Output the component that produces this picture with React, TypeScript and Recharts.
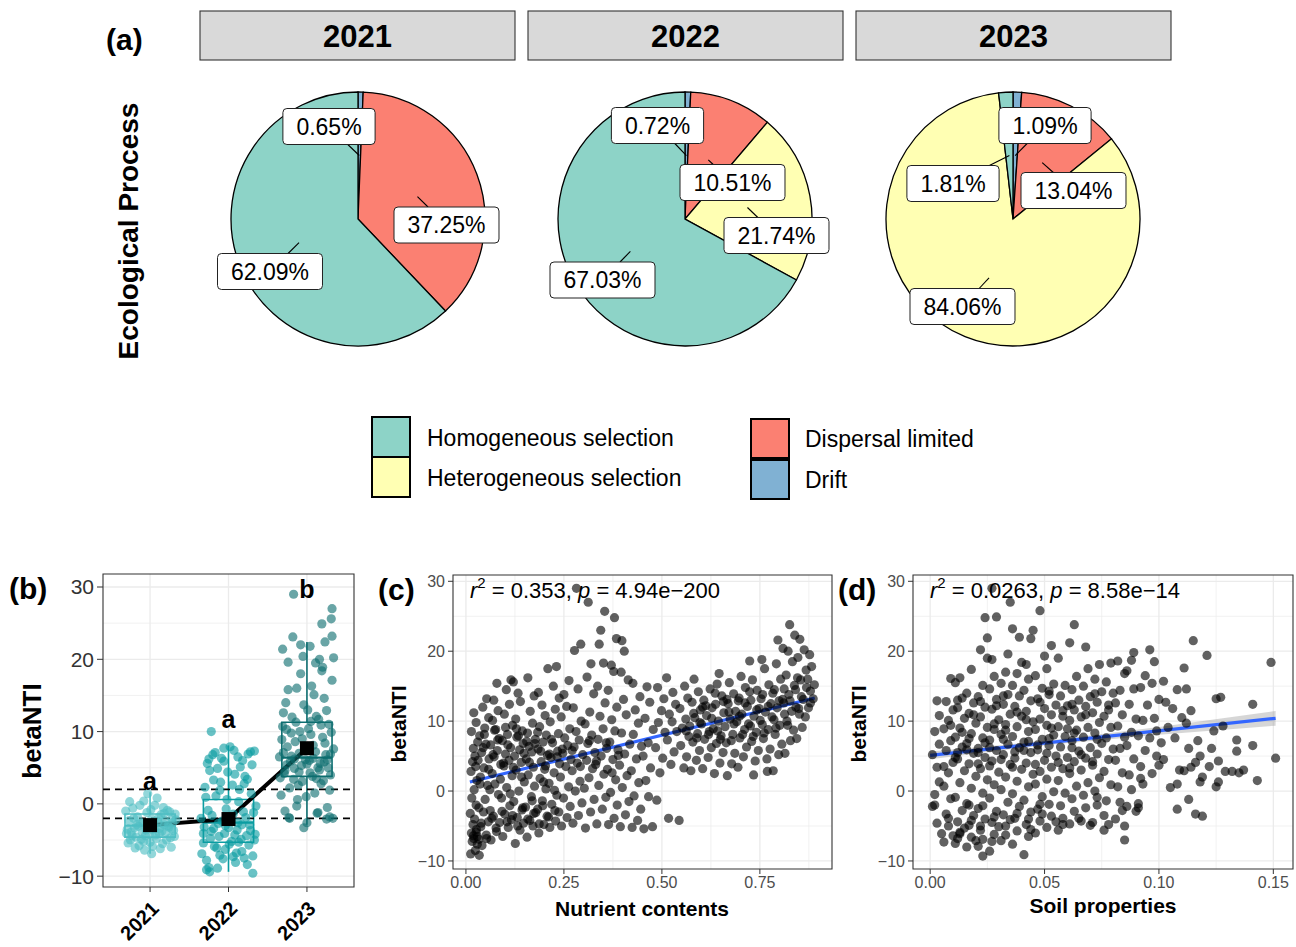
import React from "react";
import {
  PieChart,
  Pie,
  Cell,
  ComposedChart,
  Scatter,
  Line,
  Area,
  XAxis,
  YAxis,
  CartesianGrid,
  ReferenceLine,
  ReferenceArea,
} from "recharts";

const FONT = '"Liberation Sans", Arial, Helvetica, sans-serif';

// ---------- (a) share of each assembly process per year, in % ----------
const YEARS = ["2021", "2022", "2023"];
const PROCESSES = ["Drift", "Dispersal limited", "Heterogeneous selection", "Homogeneous selection"];
const SHARE_2021 = [0.65, 37.25, 0, 62.09];
const SHARE_2022 = [0.72, 10.51, 21.74, 67.03];
const SHARE_2023 = [1.09, 13.04, 84.06, 1.81];
const PROCESS_FILL = ["#80B1D3", "#FB8072", "#FFFFB3", "#8DD3C7"];
const LEGEND_LEFT = ["Homogeneous selection", "Heterogeneous selection"];
const LEGEND_RIGHT = ["Dispersal limited", "Drift"];

// label box offsets from the pie centre (repelled labels), per process
const LABEL_SPOTS_2021 = [[-29, -92.5], [88.5, 6], [0, 0], [-88, 52.5]];
const LABEL_SPOTS_2022 = [[-27.5, -93.5], [47.5, -36.5], [91.5, 16.5], [-82.5, 61]];
const LABEL_SPOTS_2023 = [[32, -93.5], [60.5, -28.5], [-50.5, 87.5], [-60, -35.5]];

// ---------- (b) betaNTI by year ----------
const YEAR_FILL = ["#4fbfc4", "#0c9da2", "#0d6e70"];
const BOX_Q1 = [-4.6, -5.3, 3.8];
const BOX_MED = [-3.0, -2.6, 6.4];
const BOX_Q3 = [-1.4, 0.6, 11.3];
const WHISKER_LO = [-6.9, -9.4, -2.9];
const WHISKER_HI = [1.6, 8.1, 22.4];
const MEAN_BETA = [-2.94, -2.1, 7.7];
const GROUP_LETTER = ["a", "a", "b"];
const LETTER_Y = [3.0, 11.6, 29.6];

// [jitter offset, betaNTI]
const JITTER_2021 = [
  [-0.30, -4.1], [-0.27, -2.3], [-0.25, -5.0], [-0.22, -0.6], [-0.20, -3.3], [-0.18, -4.6], [-0.16, -1.8], [-0.14, -5.8],
  [-0.12, -2.7], [-0.10, -3.9], [-0.08, 0.4], [-0.06, -4.4], [-0.04, -1.2], [-0.02, -3.0], [0.00, -5.3], [0.02, -2.1],
  [0.04, -3.6], [0.06, -0.2], [0.08, -4.8], [0.10, -2.5], [0.12, -3.4], [0.14, -1.5], [0.16, -5.5], [0.18, -2.9],
  [0.20, -4.0], [0.22, -0.9], [0.24, -3.2], [0.26, -4.7], [0.28, -2.0], [0.30, -3.7], [0.32, -1.4], [-0.31, -1.0],
  [-0.29, -3.5], [-0.26, 0.3], [-0.23, -4.4], [-0.21, -2.0], [-0.19, -6.1], [-0.15, -3.1], [-0.13, -0.2], [-0.11, -4.9],
  [-0.09, -2.6], [-0.07, -6.4], [-0.05, -3.6], [-0.03, 1.4], [-0.01, -4.2], [0.01, -0.8], [0.03, -5.9], [0.05, -2.8],
  [0.07, -4.3], [0.09, 0.8], [0.11, -1.9], [0.13, -6.2], [0.15, -3.8], [0.17, -0.5], [0.19, -2.4], [0.21, -5.0],
  [0.23, -3.0], [0.25, -1.1], [0.27, -6.0], [0.29, -2.6], [0.31, -4.5], [-0.24, -3.9], [-0.17, -2.9], [-0.08, -5.2],
  [0.02, -6.9], [0.06, -3.4], [0.12, -4.1], [0.18, -1.3], [0.27, -3.4], [-0.28, -5.4], [0.33, -2.2],
];
const JITTER_2022 = [
  [-0.34, -6.9], [-0.31, -3.2], [-0.29, 0.9], [-0.27, 5.6], [-0.25, -8.8], [-0.23, -4.8], [-0.21, -1.6], [-0.19, 3.3],
  [-0.17, 7.1], [-0.15, -6.1], [-0.13, -2.7], [-0.11, 1.9], [-0.09, 6.3], [-0.07, -7.6], [-0.05, -4.1], [-0.03, -0.7],
  [-0.01, 4.4], [0.01, -5.6], [0.03, -2.2], [0.05, 2.6], [0.07, 7.4], [0.09, -8.1], [0.11, -3.6], [0.13, 0.3],
  [0.15, 5.1], [0.17, -6.6], [0.19, -1.1], [0.21, 3.8], [0.23, -4.4], [0.25, 6.9], [0.27, -2.9], [0.29, 1.4],
  [0.31, -7.2], [0.33, -5.0], [0.35, -0.3], [-0.35, -2.0], [-0.32, -5.4], [-0.30, 2.3], [-0.28, -7.8], [-0.26, -0.9],
  [-0.24, 4.6], [-0.22, -3.8], [-0.20, 6.8], [-0.18, -5.9], [-0.16, 1.1], [-0.14, -8.9], [-0.12, -4.5], [-0.10, 3.0],
  [-0.08, -2.4], [-0.06, 5.9], [-0.04, -6.3], [-0.02, 0.6], [0.00, -3.3], [0.02, 7.9], [0.04, -5.2], [0.06, -1.4],
  [0.08, 4.1], [0.10, -6.8], [0.12, -2.6], [0.14, 2.0], [0.16, -4.9], [0.18, 6.0], [0.20, -7.5], [0.22, -1.9],
  [0.24, 3.4], [0.26, -5.7], [0.28, -3.7], [0.30, 5.4], [0.32, -1.2], [0.34, -4.2], [-0.22, 10.0], [-0.28, -9.1],
  [-0.24, -9.4], [0.31, -9.6], [0.24, -8.4], [-0.11, -7.1], [0.06, -7.3], [0.13, -5.3], [-0.04, -3.0], [0.17, -2.9],
  [-0.19, -3.4], [0.08, -4.3], [-0.32, -4.1], [0.28, 7.2], [0.33, 7.3], [-0.06, 7.7], [0.12, 6.5], [-0.25, 6.2],
  [0.20, 2.8], [-0.14, 4.9],
];
const JITTER_2023 = [
  [-0.34, 3.6], [-0.32, 8.9], [-0.30, 12.6], [-0.28, -1.0], [-0.26, 5.4], [-0.24, 15.8], [-0.22, 2.2], [-0.20, 9.8],
  [-0.18, 23.1], [-0.16, 4.9], [-0.14, 11.3], [-0.12, 0.6], [-0.10, 7.0], [-0.08, 18.0], [-0.06, 3.1], [-0.04, 13.7],
  [-0.02, 6.1], [0.00, -2.6], [0.02, 10.4], [0.04, 4.3], [0.06, 16.3], [0.08, 8.1], [0.10, 1.5], [0.12, 12.1],
  [0.14, 5.0], [0.16, 20.0], [0.18, 2.8], [0.20, 9.2], [0.22, 14.6], [0.24, 6.8], [0.26, -0.5], [0.28, 11.0],
  [0.30, 4.0], [0.32, 17.1], [0.34, 7.6], [-0.35, 6.5], [-0.33, 1.2], [-0.31, 10.7], [-0.29, 4.2], [-0.27, 14.0],
  [-0.25, 7.9], [-0.23, -1.9], [-0.21, 5.9], [-0.19, 12.0], [-0.17, 3.4], [-0.15, 8.6], [-0.13, 16.0], [-0.11, 2.6],
  [-0.09, 10.0], [-0.07, 5.3], [-0.05, 20.4], [-0.03, 7.4], [-0.01, 1.0], [0.01, 13.0], [0.03, 6.0], [0.05, 9.6],
  [0.07, 3.8], [0.09, 15.1], [0.11, 7.2], [0.13, -1.3], [0.15, 11.7], [0.17, 5.6], [0.19, 18.4], [0.21, 3.2],
  [0.23, 8.4], [0.25, 12.9], [0.27, 5.0], [0.29, 1.9], [0.31, 9.9], [0.33, -2.0], [-0.17, 29.0], [0.32, 27.0],
  [0.31, 25.6], [0.19, 24.9], [0.32, 23.2], [-0.08, 22.0], [0.04, 21.8], [0.23, 22.4], [-0.31, 21.4], [0.11, 19.5],
  [0.20, 18.9], [-0.24, 19.6], [0.34, 20.2], [-0.04, -3.3], [-0.22, -2.0], [0.25, -2.1], [0.29, -1.8], [0.14, -1.2],
  [-0.13, -0.3], [-0.28, 4.6], [-0.20, 6.6], [-0.10, 4.4], [0.00, 5.5], [0.08, 6.3], [0.16, 4.7], [0.26, 6.1],
  [-0.30, 7.1], [0.12, 3.5], [-0.06, 9.0], [0.22, 5.8], [0.30, 6.9], [-0.16, 6.2], [0.05, 11.4], [-0.26, 10.3],
  [0.18, 10.9],
];

// ---------- (c) betaNTI vs nutrient contents ----------
const NUTRIENT_POINTS = [
  [0.012, -9.0], [0.024, -8.5], [0.016, -7.2], [0.029, -6.5], [0.020, -6.8], [0.014, -6.0], [0.027, -5.5], [0.018, -4.8],
  [0.022, -4.0], [0.011, -3.2], [0.026, -2.0], [0.015, -1.0], [0.021, 0.2], [0.028, 1.5], [0.013, 2.8], [0.025, 3.5],
  [0.017, 4.2], [0.023, 5.0], [0.019, 6.1], [0.030, 7.0], [0.014, 8.5], [0.026, 9.8], [0.020, 11.2],
  [0.034, -9.2], [0.041, -7.8], [0.052, -6.3], [0.038, -5.1], [0.057, -4.4], [0.045, -3.0], [0.033, -2.4], [0.049, -1.2],
  [0.055, 0.8], [0.037, 2.0], [0.046, 3.3], [0.059, 4.6], [0.040, 5.5], [0.051, 6.7], [0.035, 7.9], [0.048, 9.0],
  [0.058, 10.5], [0.043, 12.0], [0.053, 13.2],
  [0.064, -7.0], [0.078, -5.8], [0.086, -4.5], [0.070, -3.6], [0.062, -2.8], [0.083, -0.5], [0.074, 1.0], [0.067, 2.5],
  [0.089, 3.8], [0.072, 4.9], [0.080, 5.8], [0.063, 6.6], [0.085, 7.5], [0.076, 8.8], [0.068, 10.1], [0.082, 11.5],
  [0.071, 13.0], [0.079, 15.4],
  [0.094, -6.5], [0.108, -5.2], [0.116, -4.1], [0.099, -3.3], [0.112, -2.1], [0.091, -1.0], [0.104, 0.5], [0.118, 2.2],
  [0.097, 3.6], [0.110, 4.4], [0.101, 5.3], [0.114, 6.2], [0.093, 7.2], [0.106, 8.1], [0.119, 9.4], [0.098, 11.0],
  [0.111, 12.4], [0.103, 14.5], [0.115, 15.9],
  [0.126, -7.5], [0.138, -5.6], [0.147, -4.6], [0.131, -3.8], [0.143, -2.7], [0.122, -1.5], [0.135, 0.0], [0.149, 1.3],
  [0.128, 3.0], [0.141, 4.1], [0.124, 5.0], [0.137, 5.9], [0.146, 6.8], [0.130, 7.7], [0.144, 8.6], [0.127, 10.3],
  [0.139, 12.8], [0.133, 14.0], [0.121, 15.6],
  [0.156, -6.6], [0.171, -5.0], [0.163, -4.2], [0.178, -3.1], [0.152, -2.3], [0.167, -0.8], [0.175, 0.7], [0.159, 2.3],
  [0.172, 3.4], [0.154, 4.6], [0.168, 5.6], [0.161, 6.4], [0.177, 7.4], [0.157, 8.3], [0.170, 9.7], [0.164, 11.4],
  [0.174, 13.6], [0.158, 16.2],
  [0.186, -6.0], [0.199, -4.8], [0.207, -3.6], [0.183, -2.6], [0.195, -1.4], [0.204, 0.3], [0.189, 1.8], [0.201, 3.1],
  [0.192, 4.2], [0.208, 5.1], [0.184, 6.0], [0.197, 7.0], [0.205, 8.0], [0.188, 9.2], [0.202, 10.8], [0.194, 12.3],
  [0.185, 14.1], [0.209, 17.5],
  [0.214, -5.2], [0.229, -4.3], [0.237, -3.0], [0.219, -1.9], [0.232, -0.6], [0.212, 1.1], [0.225, 2.6], [0.239, 3.9],
  [0.217, 4.8], [0.234, 5.7], [0.221, 6.9], [0.236, 8.2], [0.215, 9.9], [0.228, 11.7], [0.238, 13.3], [0.223, 15.0],
  [0.231, 17.8],
  [0.244, -5.0], [0.258, -3.8], [0.266, -2.2], [0.249, -1.0], [0.262, 0.6], [0.241, 2.0], [0.255, 3.5], [0.268, 4.5],
  [0.247, 5.4], [0.260, 6.5], [0.252, 7.6], [0.265, 8.9], [0.243, 10.6], [0.257, 12.1], [0.250, 13.8], [0.263, 15.8],
  [0.273, -4.6], [0.287, -3.5], [0.296, -1.7], [0.279, 0.0], [0.291, 1.4], [0.271, 2.9], [0.284, 4.0], [0.298, 5.2],
  [0.276, 6.3], [0.289, 7.3], [0.281, 8.5], [0.294, 10.0], [0.274, 11.9], [0.286, 14.6], [0.277, 20.1], [0.293, 21.0],
  [0.282, 29.0],
  [0.305, -5.3], [0.318, -3.0], [0.327, -1.2], [0.302, 0.4], [0.314, 1.9], [0.323, 3.2], [0.308, 4.4], [0.329, 5.5],
  [0.311, 6.8], [0.321, 8.0], [0.304, 9.6], [0.316, 11.3], [0.326, 13.9], [0.309, 16.3], [0.319, 18.2], [0.312, 27.0],
  [0.334, -4.7], [0.348, -2.6], [0.357, -0.9], [0.339, 0.8], [0.352, 2.4], [0.331, 3.8], [0.345, 5.0], [0.359, 6.1],
  [0.337, 7.4], [0.350, 8.9], [0.342, 10.7], [0.355, 12.6], [0.336, 15.0], [0.351, 18.3], [0.340, 21.0], [0.344, 23.0],
  [0.354, 25.7],
  [0.364, -4.8], [0.378, -3.9], [0.386, -2.0], [0.369, -0.2], [0.382, 1.6], [0.361, 3.1], [0.375, 4.5], [0.388, 5.9],
  [0.367, 7.0], [0.380, 8.6], [0.372, 10.2], [0.385, 12.0], [0.363, 14.4], [0.377, 17.1], [0.371, 18.0], [0.384, 21.8],
  [0.379, 24.8],
  [0.394, -5.1], [0.407, -3.4], [0.416, -1.5], [0.399, 0.5], [0.411, 2.2], [0.392, 3.7], [0.405, 5.3], [0.418, 6.7],
  [0.397, 8.3], [0.409, 10.9], [0.402, 13.1], [0.414, 15.9], [0.396, 17.0], [0.404, 20.0], [0.398, 21.5],
  [0.424, -5.2], [0.438, -4.2], [0.446, -2.6], [0.429, -0.7], [0.441, 1.2], [0.422, 2.9], [0.435, 4.6], [0.448, 6.4],
  [0.427, 8.1], [0.440, 9.7], [0.432, 11.6], [0.444, 13.5], [0.426, 15.4],
  [0.454, -5.4], [0.476, -5.1], [0.466, -0.8], [0.459, 1.5], [0.471, 3.3], [0.452, 5.0], [0.465, 6.9], [0.478, 8.8],
  [0.457, 10.4], [0.469, 12.7], [0.462, 14.9],
  [0.487, -1.3], [0.495, 2.6], [0.502, 4.7], [0.484, 6.2], [0.508, 8.4], [0.491, 9.8], [0.499, 11.5], [0.505, 13.2],
  [0.489, 14.8],
  [0.517, -3.9], [0.523, 3.8], [0.531, 5.6], [0.514, 7.3], [0.538, 8.5], [0.526, 9.9], [0.519, 11.0], [0.535, 12.4],
  [0.528, 14.1], [0.512, 16.2],
  [0.544, -4.2], [0.556, 3.3], [0.563, 4.9], [0.548, 6.5], [0.569, 7.8], [0.552, 9.0], [0.561, 10.3], [0.546, 11.8],
  [0.566, 13.3], [0.558, 15.0],
  [0.574, 2.9], [0.588, 4.4], [0.596, 5.8], [0.579, 7.0], [0.591, 8.2], [0.571, 9.3], [0.584, 10.5], [0.598, 11.6],
  [0.577, 12.7], [0.593, 14.2], [0.582, 16.0],
  [0.604, 3.2], [0.618, 4.8], [0.626, 6.2], [0.609, 7.4], [0.621, 8.5], [0.601, 9.6], [0.614, 10.8], [0.628, 11.9],
  [0.607, 13.0], [0.623, 14.6],
  [0.634, 2.5], [0.648, 4.0], [0.656, 5.5], [0.639, 6.8], [0.651, 7.9], [0.631, 8.9], [0.644, 10.0], [0.658, 11.2],
  [0.637, 12.4], [0.653, 13.6], [0.641, 15.3], [0.646, 16.8],
  [0.667, 2.2], [0.678, 3.9], [0.686, 5.4], [0.664, 6.9], [0.681, 8.1], [0.661, 9.2], [0.674, 10.3], [0.688, 11.4],
  [0.669, 12.5], [0.683, 13.9], [0.672, 15.5],
  [0.694, 3.4], [0.708, 4.9], [0.716, 6.3], [0.699, 7.6], [0.711, 8.8], [0.691, 9.9], [0.704, 11.0], [0.718, 12.1],
  [0.697, 13.3], [0.713, 14.8], [0.702, 16.4],
  [0.734, 2.3], [0.738, 4.3], [0.746, 5.8], [0.729, 7.1], [0.741, 8.4], [0.721, 9.6], [0.735, 10.7], [0.748, 11.8],
  [0.727, 13.0], [0.743, 14.4], [0.731, 15.9], [0.724, 18.6],
  [0.769, 2.8], [0.768, 4.6], [0.776, 6.0], [0.759, 7.5], [0.771, 8.8], [0.751, 10.1], [0.764, 11.3], [0.778, 12.5],
  [0.757, 13.8], [0.773, 15.2], [0.762, 17.5], [0.755, 18.8],
  [0.784, 2.9], [0.798, 5.2], [0.806, 6.7], [0.789, 8.1], [0.801, 9.4], [0.781, 10.6], [0.794, 11.9], [0.808, 13.1],
  [0.787, 14.5], [0.803, 16.0], [0.792, 18.2], [0.809, 20.4], [0.796, 21.6],
  [0.814, 5.4], [0.828, 7.2], [0.836, 8.7], [0.819, 10.0], [0.831, 11.4], [0.811, 12.6], [0.824, 13.8], [0.838, 15.1],
  [0.817, 16.6], [0.833, 18.5], [0.822, 20.0], [0.839, 22.3], [0.826, 23.8],
  [0.844, 7.5], [0.858, 9.1], [0.866, 10.6], [0.849, 11.8], [0.861, 13.1], [0.841, 14.5], [0.854, 15.9], [0.868, 17.3],
  [0.847, 19.1], [0.863, 20.2], [0.852, 21.7],
  [0.874, 11.9], [0.886, 13.2], [0.879, 14.3], [0.889, 15.2], [0.872, 16.0], [0.882, 17.8], [0.877, 19.5],
  [0.031, 4.4], [0.044, 6.2], [0.058, 3.1], [0.069, 5.2], [0.081, 7.3], [0.096, 4.0], [0.107, 6.6], [0.121, 3.4],
  [0.134, 7.9], [0.148, 5.4], [0.162, 4.1], [0.176, 6.8], [0.191, 5.7], [0.203, 3.6], [0.218, 7.4], [0.233, 4.9],
  [0.246, 6.0], [0.026, -5.9], [0.039, -4.6], [0.053, -6.8], [0.066, -3.9], [0.077, -5.3], [0.092, -2.9], [0.105, -4.4],
  [0.119, -3.5], [0.132, -5.0], [0.145, -2.4], [0.158, -4.0], [0.173, -3.2], [0.187, -4.7], [0.196, -2.1], [0.211, -3.7],
  [0.227, -2.8], [0.036, 1.0], [0.061, 0.2], [0.088, 1.7], [0.113, -0.4], [0.142, 2.0], [0.169, -1.4], [0.198, 1.3],
  [0.226, 0.1], [0.029, -7.6], [0.019, -6.4], [0.033, -6.9], [0.047, 8.1], [0.073, 8.7], [0.101, 9.1], [0.129, 8.9],
  [0.155, 7.1], [0.183, 8.4], [0.213, 5.3], [0.271, 5.8], [0.292, 3.5], [0.315, 7.2], [0.333, 4.3], [0.358, 6.9],
  [0.373, 2.6], [0.389, 5.1],
  [0.562, 8.6], [0.581, 11.1], [0.597, 9.8], [0.612, 12.2], [0.627, 10.4], [0.642, 8.6], [0.657, 12.8], [0.671, 11.3],
  [0.684, 9.6], [0.698, 10.7], [0.712, 12.6], [0.726, 9.3], [0.742, 11.6], [0.756, 9.5], [0.771, 12.1], [0.786, 10.2],
  [0.799, 12.9], [0.813, 11.0], [0.827, 12.9], [0.842, 12.0], [0.856, 13.5], [0.869, 14.8], [0.589, 7.6], [0.619, 8.1],
  [0.649, 7.4], [0.677, 7.2], [0.706, 8.1], [0.733, 7.8], [0.761, 8.3], [0.791, 9.0], [0.821, 9.4], [0.851, 11.0],
  [0.604, 12.0], [0.636, 14.0], [0.666, 13.1], [0.695, 12.9], [0.724, 14.2], [0.753, 13.2], [0.783, 14.0], [0.812, 14.6],
  [0.846, 16.2], [0.879, 12.6],
];
const NUTRIENT_FIT_X = [0.01, 0.89];
const NUTRIENT_FIT_Y = [1.3, 13.3];

// ---------- (d) betaNTI vs soil properties ----------
const SOIL_POINTS = [
  [0.001, -2.2], [0.002, -2.0], [0.003, 3.4], [0.004, 6.7], [0.002, 8.5], [0.004, 10.8], [0.001, 5.2], [0.003, -4.6],
  [0.005, -6.1], [0.003, 12.9], [0.004, 1.3], [0.002, -0.5],
  [0.006, -7.3], [0.008, -5.0], [0.007, -3.3], [0.009, -1.1], [0.006, 0.7], [0.008, 2.6], [0.010, 4.1], [0.007, 5.8],
  [0.009, 7.2], [0.006, 8.9], [0.008, 10.1], [0.010, 11.6], [0.007, 12.8], [0.009, 16.1], [0.010, -6.4], [0.006, 3.5],
  [0.011, -7.5], [0.013, -6.1], [0.012, -4.4], [0.014, -2.8], [0.011, -0.9], [0.013, 1.2], [0.015, 2.9], [0.012, 4.6],
  [0.014, 6.3], [0.011, 7.7], [0.013, 9.0], [0.015, 10.4], [0.012, 11.9], [0.014, 13.3], [0.011, 15.5], [0.013, 16.2],
  [0.015, -5.3], [0.012, 5.5],
  [0.016, -8.0], [0.018, -6.6], [0.017, -4.9], [0.019, -3.5], [0.016, -1.8], [0.018, 0.4], [0.020, 2.1], [0.017, 3.9],
  [0.019, 5.4], [0.016, 6.8], [0.018, 8.2], [0.020, 9.7], [0.017, 11.1], [0.019, 12.6], [0.016, 14.0], [0.018, 17.4],
  [0.020, -7.1], [0.017, 7.5],
  [0.021, -7.9], [0.023, -9.3], [0.022, -5.6], [0.024, -4.0], [0.021, -2.5], [0.023, -0.3], [0.025, 1.6], [0.022, 3.2],
  [0.024, 4.8], [0.021, 6.1], [0.023, 7.6], [0.025, 9.1], [0.022, 10.6], [0.024, 12.0], [0.021, 13.5], [0.023, 15.1],
  [0.025, 19.0], [0.022, 20.2], [0.024, 24.8], [0.025, 21.9], [0.021, 5.5], [0.023, -6.9],
  [0.026, -8.6], [0.028, -6.2], [0.027, -4.5], [0.029, -2.9], [0.026, -1.0], [0.028, 0.9], [0.030, 2.7], [0.027, 4.3],
  [0.029, 5.8], [0.026, 7.3], [0.028, 8.8], [0.030, 10.2], [0.027, 11.7], [0.029, 13.1], [0.026, 14.6], [0.028, 16.4],
  [0.027, 18.8], [0.029, 24.9], [0.027, 29.0], [0.030, -5.1], [0.026, 3.6], [0.028, 9.6],
  [0.031, -7.1], [0.033, -5.0], [0.032, -3.4], [0.034, -1.6], [0.031, 0.2], [0.033, 2.0], [0.035, 3.8], [0.032, 5.2],
  [0.034, 6.7], [0.031, 8.1], [0.033, 9.5], [0.035, 11.0], [0.032, 12.4], [0.034, 13.8], [0.031, 15.4], [0.033, 17.0],
  [0.035, 27.0], [0.034, 19.6], [0.032, 7.4], [0.035, -4.1],
  [0.036, -7.6], [0.038, -5.7], [0.037, -3.9], [0.039, -2.2], [0.036, -0.4], [0.038, 1.4], [0.040, 3.1], [0.037, 4.7],
  [0.039, 6.2], [0.036, 7.8], [0.038, 9.2], [0.040, 10.7], [0.037, 12.1], [0.039, 13.6], [0.036, 15.1], [0.038, 16.8],
  [0.036, 23.2], [0.039, 22.0], [0.040, 18.4], [0.037, 5.6],
  [0.041, -9.1], [0.043, -6.5], [0.042, -4.8], [0.044, -3.0], [0.041, -1.3], [0.043, 0.6], [0.045, 2.4], [0.042, 4.0],
  [0.044, 5.5], [0.041, 7.0], [0.043, 8.5], [0.045, 9.9], [0.042, 11.4], [0.044, 12.9], [0.041, 14.4], [0.043, 16.0],
  [0.044, 21.8], [0.045, 23.0], [0.042, 18.1], [0.044, -5.5],
  [0.046, -6.0], [0.048, -4.3], [0.047, -2.6], [0.049, -0.8], [0.046, 1.0], [0.048, 2.8], [0.050, 4.4], [0.047, 5.9],
  [0.049, 7.4], [0.046, 8.8], [0.048, 10.3], [0.050, 11.8], [0.047, 13.2], [0.049, 14.7], [0.046, 16.5], [0.048, 25.8],
  [0.050, 19.3], [0.047, 6.6], [0.049, -3.3],
  [0.051, -5.2], [0.053, -3.6], [0.052, -1.9], [0.054, -0.1], [0.051, 1.7], [0.053, 3.4], [0.055, 5.0], [0.052, 6.5],
  [0.054, 8.0], [0.051, 9.4], [0.053, 10.9], [0.055, 12.3], [0.052, 13.8], [0.054, 15.3], [0.051, 17.5], [0.053, 20.8],
  [0.055, -4.4], [0.052, 7.5],
  [0.056, -5.6], [0.058, -3.9], [0.057, -2.1], [0.059, -0.3], [0.056, 1.5], [0.058, 3.2], [0.060, 4.8], [0.057, 6.3],
  [0.059, 7.8], [0.056, 9.2], [0.058, 10.7], [0.060, 12.2], [0.057, 13.6], [0.059, 15.1], [0.056, 19.0], [0.058, -4.8],
  [0.060, 8.9],
  [0.061, -4.7], [0.063, -2.9], [0.062, -1.1], [0.064, 0.7], [0.061, 2.5], [0.063, 4.2], [0.065, 5.7], [0.062, 7.2],
  [0.064, 8.7], [0.061, 10.1], [0.063, 11.6], [0.065, 13.0], [0.062, 14.5], [0.064, 16.4], [0.063, 23.8], [0.061, 21.2],
  [0.065, -3.9], [0.062, 6.2],
  [0.066, -4.3], [0.068, -2.4], [0.067, -0.6], [0.069, 1.2], [0.066, 3.0], [0.068, 4.7], [0.070, 6.2], [0.067, 7.7],
  [0.069, 9.1], [0.066, 10.6], [0.068, 12.1], [0.070, 13.5], [0.067, 15.0], [0.069, 17.5], [0.068, 20.6], [0.070, -4.9],
  [0.071, -4.5], [0.073, -2.0], [0.072, 0.0], [0.074, 1.9], [0.071, 3.7], [0.073, 5.3], [0.075, 6.8], [0.072, 8.3],
  [0.074, 9.8], [0.071, 11.2], [0.073, 12.7], [0.075, 14.2], [0.072, 16.0], [0.074, 18.1], [0.073, -0.9],
  [0.076, -5.6], [0.078, -4.8], [0.077, -1.4], [0.079, 0.9], [0.076, 2.8], [0.078, 4.5], [0.080, 6.0], [0.077, 7.6],
  [0.079, 9.1], [0.076, 10.7], [0.078, 12.3], [0.080, 14.0], [0.077, 15.6], [0.079, 18.3], [0.076, -3.5],
  [0.081, -4.0], [0.083, -1.6], [0.082, 0.6], [0.084, 2.6], [0.081, 4.4], [0.083, 6.1], [0.085, 7.7], [0.082, 9.3],
  [0.084, 10.9], [0.081, 12.6], [0.083, 14.4], [0.085, 16.8], [0.082, 18.6], [0.084, -2.8], [0.085, -7.0], [0.085, -5.0],
  [0.086, -2.2], [0.088, 0.2], [0.087, 2.3], [0.089, 4.6], [0.086, 6.5], [0.088, 8.4], [0.090, 10.3], [0.087, 12.4],
  [0.089, 14.6], [0.086, 17.2], [0.088, 18.7], [0.090, -2.9], [0.089, 19.8],
  [0.091, -2.4], [0.093, 1.0], [0.092, 3.5], [0.094, 5.8], [0.091, 7.9], [0.093, 10.1], [0.095, 12.3], [0.092, 14.8],
  [0.094, 16.5], [0.091, -1.8], [0.092, 1.8],
  [0.096, 20.2], [0.098, 18.5], [0.097, 2.5], [0.099, 5.0], [0.096, 7.6], [0.098, 10.4], [0.100, 13.1], [0.097, 15.4],
  [0.099, 8.6], [0.100, 3.7],
  [0.102, 4.5], [0.104, 9.1], [0.106, 11.8], [0.108, 14.5], [0.101, 6.9], [0.105, 0.5], [0.108, 1.0], [0.108, -2.6],
  [0.103, 12.7], [0.107, 7.6], [0.109, 3.0], [0.110, 10.5], [0.102, 15.7],
  [0.111, 17.6], [0.112, 14.6], [0.113, -1.2], [0.111, 2.9], [0.114, 3.4], [0.115, 21.5], [0.117, 7.2], [0.119, -3.6],
  [0.116, -3.3], [0.113, 6.1], [0.118, 5.0], [0.112, 9.7], [0.116, 4.1], [0.119, 2.0], [0.114, 11.5], [0.118, 1.3],
  [0.121, 19.4], [0.125, 13.2], [0.127, 13.4], [0.126, 4.3], [0.125, 0.6], [0.126, 1.3], [0.124, 8.6], [0.123, 6.1],
  [0.128, 9.3], [0.122, 3.5], [0.129, 2.8],
  [0.134, 7.3], [0.134, 5.7], [0.132, 2.8], [0.135, 2.6], [0.141, 12.4], [0.141, 6.5], [0.143, 1.5], [0.149, 18.4],
  [0.151, 4.7], [0.137, 3.0],
  [0.009, 9.4], [0.014, 8.4], [0.019, 10.9], [0.024, 6.9], [0.029, 12.2], [0.033, 8.7], [0.038, 11.3], [0.043, 7.1],
  [0.048, 12.7], [0.053, 9.0], [0.058, 11.5], [0.063, 8.3], [0.068, 10.9], [0.073, 7.4], [0.078, 11.6], [0.011, 4.8],
  [0.016, 5.9], [0.021, 3.9], [0.026, 6.2], [0.031, 4.5], [0.036, 3.4], [0.041, 5.8], [0.046, 3.8], [0.051, 5.4],
  [0.056, 4.1], [0.061, 3.3], [0.066, 5.2], [0.071, 4.2], [0.012, 13.0], [0.022, 12.8], [0.032, 13.6], [0.042, 10.2],
  [0.052, 14.3], [0.062, 12.4], [0.072, 13.9], [0.008, -3.9], [0.013, -5.9], [0.018, -4.2], [0.023, -2.1], [0.028, -3.7],
  [0.033, -6.3], [0.038, -3.2], [0.043, -4.0], [0.048, -1.9], [0.017, -2.0], [0.027, -7.2], [0.012, -6.8], [0.022, -5.0],
];
const SOIL_FIT_X = [0, 0.151];
const SOIL_FIT_Y = [5.1, 10.4];
const SOIL_BAND_X = [0, 0.05, 0.1, 0.151];
const SOIL_BAND_LO = [4.55, 6.56, 8.06, 9.35];
const SOIL_BAND_HI = [5.65, 7.16, 9.16, 11.45];

// ---------- shared styling ----------
const GRID = "#ebebeb";
const BORDER = "#333333";
const BETA_TICKS = [-10, 0, 10, 20, 30];
const BETA_MINOR = [-5, 5, 15, 25];
const minusTick = (v: number) => (v < 0 ? `\u2212${Math.abs(v)}` : `${v}`);

const PIE_W = 330;
const PIE_H = 300;
const PIE_CY = 219;
const PIE_CX = [358, 685, 1013];
const PIE_R = 127;

// rough Arial advance widths, enough to size the label boxes
const charWidth = (c: string) => (c === "." ? 0.278 : c === "%" ? 0.889 : 0.556);
const textWidth = (s: string, size: number) => s.split("").reduce((a, c) => a + charWidth(c), 0) * size;

function ProcessPie({ shares, spots, cx }: { shares: number[]; spots: number[][]; cx: number }) {
  const data = PROCESSES.map((name, i) => ({ name, value: shares[i], fill: PROCESS_FILL[i], spot: spots[i] })).filter(
    (d) => d.value > 0
  );

  const renderLabel = (p: any) => {
    const d = data[p.index];
    if (!d) return null;
    const rad = Math.PI / 180;
    const ax = p.cx + p.outerRadius * 0.5 * Math.cos(-p.midAngle * rad);
    const ay = p.cy + p.outerRadius * 0.5 * Math.sin(-p.midAngle * rad);
    const lx = p.cx + d.spot[0];
    const ly = p.cy + d.spot[1];
    const text = `${d.value.toFixed(2)}%`;
    const w = textWidth(text, 23) + 27;
    const h = 36;
    const dx = ax - lx;
    const dy = ay - ly;
    const t = Math.min(dx !== 0 ? w / 2 / Math.abs(dx) : Infinity, dy !== 0 ? h / 2 / Math.abs(dy) : Infinity);
    return (
      <g key={`lab-${p.index}`}>
        {t < 1 && <line x1={ax} y1={ay} x2={lx + dx * t} y2={ly + dy * t} stroke="#000" strokeWidth={1.1} />}
        <rect x={lx - w / 2} y={ly - h / 2} width={w} height={h} rx={4} fill="#fff" stroke="#222" strokeWidth={1} />
        <text x={lx} y={ly + 8} textAnchor="middle" fontSize={23} fill="#000" fontFamily={FONT}>
          {text}
        </text>
      </g>
    );
  };

  return (
    <div style={{ position: "absolute", left: cx - PIE_W / 2, top: PIE_CY - PIE_H / 2 }}>
      <PieChart width={PIE_W} height={PIE_H} margin={{ top: 0, right: 0, bottom: 0, left: 0 }}>
        <Pie
          data={data}
          dataKey="value"
          cx={PIE_W / 2}
          cy={PIE_H / 2}
          outerRadius={PIE_R}
          startAngle={90}
          endAngle={-270}
          stroke="#000"
          strokeWidth={1.3}
          label={renderLabel}
          labelLine={false}
          isAnimationActive={false}
        >
          {data.map((d) => (
            <Cell key={d.name} fill={d.fill} />
          ))}
        </Pie>
      </PieChart>
    </div>
  );
}

const YearTick = (props: any) => {
  const { x, y, payload } = props;
  const ex = x + 10;
  const ey = y + 16;
  return (
    <text
      x={ex}
      y={ey}
      transform={`rotate(-45, ${ex}, ${ey})`}
      textAnchor="end"
      fontSize={20}
      fontWeight="bold"
      fill="#000"
      fontFamily={FONT}
    >
      {YEARS[payload.value - 1]}
    </text>
  );
};

function BetaByYear() {
  const groups = [JITTER_2021, JITTER_2022, JITTER_2023].map((pts, g) =>
    pts.map(([dx, y]) => ({ x: g + 1 + dx, y }))
  );
  const means = MEAN_BETA.map((y, g) => ({ x: g + 1, y }));
  const letters = GROUP_LETTER.map((label, g) => ({ x: g + 1, y: LETTER_Y[g], label }));
  const half = 0.32;

  return (
    <div style={{ position: "absolute", left: 0, top: 560 }}>
      <ComposedChart width={370} height={387} margin={{ top: 14, right: 16, bottom: 10, left: 43 }}>
        <CartesianGrid vertical={false} horizontalValues={BETA_MINOR} stroke={GRID} strokeWidth={0.7} />
        <CartesianGrid horizontalValues={BETA_TICKS} verticalValues={[1, 2, 3]} stroke={GRID} strokeWidth={1.3} />
        <XAxis
          type="number"
          dataKey="x"
          domain={[0.4, 3.6]}
          ticks={[1, 2, 3]}
          allowDataOverflow
          height={50}
          axisLine={false}
          tickSize={5}
          tickMargin={2}
          tickLine={{ stroke: BORDER }}
          tick={<YearTick />}
        />
        <YAxis
          type="number"
          dataKey="y"
          domain={[-11.5, 31.8]}
          ticks={BETA_TICKS}
          allowDataOverflow
          width={60}
          axisLine={false}
          tickSize={6}
          tickMargin={3}
          tickLine={{ stroke: BORDER }}
          tick={{ fill: "#333", fontSize: 21 }}
          tickFormatter={minusTick}
        />
        {YEAR_FILL.map((c, g) => (
          <ReferenceArea
            key={`box${g}`}
            x1={g + 1 - half}
            x2={g + 1 + half}
            y1={BOX_Q1[g]}
            y2={BOX_Q3[g]}
            fill="none"
            stroke={c}
            strokeWidth={1.6}
            ifOverflow="visible"
          />
        ))}
        {YEAR_FILL.map((c, g) => (
          <ReferenceLine
            key={`med${g}`}
            segment={[
              { x: g + 1 - half, y: BOX_MED[g] },
              { x: g + 1 + half, y: BOX_MED[g] },
            ]}
            stroke={c}
            strokeWidth={2.2}
          />
        ))}
        {YEAR_FILL.map((c, g) => (
          <ReferenceLine
            key={`wlo${g}`}
            segment={[
              { x: g + 1, y: WHISKER_LO[g] },
              { x: g + 1, y: BOX_Q1[g] },
            ]}
            stroke={c}
            strokeWidth={1.6}
          />
        ))}
        {YEAR_FILL.map((c, g) => (
          <ReferenceLine
            key={`whi${g}`}
            segment={[
              { x: g + 1, y: BOX_Q3[g] },
              { x: g + 1, y: WHISKER_HI[g] },
            ]}
            stroke={c}
            strokeWidth={1.6}
          />
        ))}
        {groups.map((pts, g) => (
          <Scatter
            key={`pts${g}`}
            data={pts}
            isAnimationActive={false}
            shape={(p: any) => <circle cx={p.cx} cy={p.cy} r={4.6} fill={YEAR_FILL[g]} fillOpacity={0.62} />}
          />
        ))}
        <ReferenceLine y={2} stroke="#000" strokeWidth={1.6} strokeDasharray="7 5" />
        <ReferenceLine y={-2} stroke="#000" strokeWidth={1.6} strokeDasharray="7 5" />
        <Line
          data={means}
          dataKey="y"
          stroke="#000"
          strokeWidth={4}
          isAnimationActive={false}
          dot={(p: any) => <rect key={`m${p.index}`} x={p.cx - 7} y={p.cy - 7} width={14} height={14} fill="#000" />}
          activeDot={false}
        />
        <Scatter
          data={letters}
          isAnimationActive={false}
          shape={(p: any) => (
            <text
              x={p.cx}
              y={p.cy + 8}
              textAnchor="middle"
              fontSize={25}
              fontWeight="bold"
              fill="#000"
              fontFamily={FONT}
            >
              {p.payload?.label ?? p.label}
            </text>
          )}
        />
        <ReferenceArea x1={0.4} x2={3.6} y1={-11.5} y2={31.8} fill="none" stroke={BORDER} strokeWidth={1.1} ifOverflow="visible" />
      </ComposedChart>
    </div>
  );
}

function RegressionPanel(props: {
  left: number;
  width: number;
  marginRight: number;
  points: number[][];
  fitX: number[];
  fitY: number[];
  xDomain: number[];
  xTicks: number[];
  xMinor: number[];
  bandX?: number[];
  bandLo?: number[];
  bandHi?: number[];
}) {
  const { left, width, marginRight, points, fitX, fitY, xDomain, xTicks, xMinor, bandX, bandLo, bandHi } = props;
  const pts = points.map(([x, y]) => ({ x, y }));
  const fit = fitX.map((x, i) => ({ x, y: fitY[i] }));
  const band = bandX ? bandX.map((x, i) => ({ x, band: [bandLo![i], bandHi![i]] })) : null;
  const yDomain = [-11.15, 30.9];

  return (
    <div style={{ position: "absolute", left, top: 560 }}>
      <ComposedChart width={width} height={387} margin={{ top: 15, right: marginRight, bottom: 48, left: 33 }}>
        <CartesianGrid horizontalValues={BETA_MINOR} verticalValues={xMinor} stroke={GRID} strokeWidth={0.7} />
        <CartesianGrid horizontalValues={BETA_TICKS} verticalValues={xTicks} stroke={GRID} strokeWidth={1.3} />
        <XAxis
          type="number"
          dataKey="x"
          domain={xDomain}
          ticks={xTicks}
          allowDataOverflow
          height={30}
          axisLine={false}
          tickSize={5}
          tickMargin={3}
          tickLine={{ stroke: BORDER }}
          tick={{ fill: "#4d4d4d", fontSize: 16 }}
          tickFormatter={(v: number) => v.toFixed(2)}
        />
        <YAxis
          type="number"
          dataKey="y"
          domain={yDomain}
          ticks={BETA_TICKS}
          allowDataOverflow
          width={40}
          axisLine={false}
          tickSize={5}
          tickMargin={3}
          tickLine={{ stroke: BORDER }}
          tick={{ fill: "#4d4d4d", fontSize: 16 }}
          tickFormatter={minusTick}
        />
        {band && (
          <Area
            data={band}
            dataKey="band"
            type="linear"
            stroke="none"
            fill="#999999"
            fillOpacity={0.4}
            isAnimationActive={false}
            activeDot={false}
          />
        )}
        <Scatter
          data={pts}
          isAnimationActive={false}
          shape={(p: any) => <circle cx={p.cx} cy={p.cy} r={4.6} fill="#000" fillOpacity={0.62} />}
        />
        <Line data={fit} dataKey="y" stroke="#3366FF" strokeWidth={3.2} dot={false} activeDot={false} isAnimationActive={false} />
        <ReferenceArea
          x1={xDomain[0]}
          x2={xDomain[1]}
          y1={yDomain[0]}
          y2={yDomain[1]}
          fill="none"
          stroke={BORDER}
          strokeWidth={1.1}
          ifOverflow="visible"
        />
      </ComposedChart>
    </div>
  );
}

const StatText = ({ x, r2, p }: { x: number; r2: string; p: string }) => (
  <text x={x} y={598} fontSize={22} fill="#000" style={{ whiteSpace: "pre" }}>
    <tspan fontStyle="italic">r</tspan>
    <tspan dy={-10} fontSize={15}>
      2
    </tspan>
    <tspan dy={10}>{` = ${r2}, `}</tspan>
    <tspan fontStyle="italic">p</tspan>
    <tspan>{` = ${p}`}</tspan>
  </text>
);

export default function App() {
  const stripLeft = [200, 528, 856];
  return (
    <div
      style={{
        position: "absolute",
        left: 0,
        top: 0,
        width: 1296,
        height: 947,
        background: "#fff",
        fontFamily: FONT,
        overflow: "hidden",
      }}
    >
      <ProcessPie shares={SHARE_2021} spots={LABEL_SPOTS_2021} cx={PIE_CX[0]} />
      <ProcessPie shares={SHARE_2022} spots={LABEL_SPOTS_2022} cx={PIE_CX[1]} />
      <ProcessPie shares={SHARE_2023} spots={LABEL_SPOTS_2023} cx={PIE_CX[2]} />

      <BetaByYear />
      <RegressionPanel
        left={380}
        width={460}
        marginRight={8}
        points={NUTRIENT_POINTS}
        fitX={NUTRIENT_FIT_X}
        fitY={NUTRIENT_FIT_Y}
        xDomain={[-0.033, 0.934]}
        xTicks={[0, 0.25, 0.5, 0.75]}
        xMinor={[0.125, 0.375, 0.625, 0.875]}
      />
      <RegressionPanel
        left={840}
        width={456}
        marginRight={3}
        points={SOIL_POINTS}
        fitX={SOIL_FIT_X}
        fitY={SOIL_FIT_Y}
        xDomain={[-0.0075, 0.1586]}
        xTicks={[0, 0.05, 0.1, 0.15]}
        xMinor={[0.025, 0.075, 0.125]}
        bandX={SOIL_BAND_X}
        bandLo={SOIL_BAND_LO}
        bandHi={SOIL_BAND_HI}
      />

      {/* titles, facet strips, legend and annotations */}
      <svg
        width={1296}
        height={947}
        style={{ position: "absolute", left: 0, top: 0, pointerEvents: "none", fontFamily: FONT }}
      >
        <text x={106} y={50} fontSize={30} fontWeight="bold">
          (a)
        </text>
        {YEARS.map((yr, i) => (
          <g key={yr}>
            <rect x={stripLeft[i]} y={11} width={315} height={49} fill="#d9d9d9" stroke={BORDER} strokeWidth={1.1} />
            <text x={stripLeft[i] + 157.5} y={47} textAnchor="middle" fontSize={31} fontWeight="bold">
              {yr}
            </text>
          </g>
        ))}
        <text x={138} y={231} transform="rotate(-90, 138, 231)" textAnchor="middle" fontSize={28} fontWeight="bold">
          Ecological Process
        </text>

        {/* legend */}
        {LEGEND_LEFT.map((name, i) => (
          <g key={name}>
            <rect
              x={372}
              y={417 + i * 40}
              width={38}
              height={40}
              fill={PROCESS_FILL[PROCESSES.indexOf(name)]}
              stroke="#000"
              strokeWidth={2}
            />
            <text x={427} y={446 + i * 40} fontSize={23}>
              {name}
            </text>
          </g>
        ))}
        {LEGEND_RIGHT.map((name, i) => (
          <g key={name}>
            <rect
              x={751}
              y={419 + i * 41}
              width={38}
              height={39}
              fill={PROCESS_FILL[PROCESSES.indexOf(name)]}
              stroke="#000"
              strokeWidth={2}
            />
            <text x={805} y={447 + i * 41} fontSize={23}>
              {name}
            </text>
          </g>
        ))}

        <text x={9} y={599} fontSize={30} fontWeight="bold">
          (b)
        </text>
        <text x={378} y={600} fontSize={30} fontWeight="bold">
          (c)
        </text>
        <text x={838} y={600} fontSize={30} fontWeight="bold">
          (d)
        </text>

        <text x={41} y={731} transform="rotate(-90, 41, 731)" textAnchor="middle" fontSize={26} fontWeight="bold">
          betaNTI
        </text>
        <text x={406} y={724} transform="rotate(-90, 406, 724)" textAnchor="middle" fontSize={21} fontWeight="bold">
          betaNTI
        </text>
        <text x={866} y={724} transform="rotate(-90, 866, 724)" textAnchor="middle" fontSize={21} fontWeight="bold">
          betaNTI
        </text>
        <text x={642} y={916} textAnchor="middle" fontSize={21} fontWeight="bold">
          Nutrient contents
        </text>
        <text x={1103} y={913} textAnchor="middle" fontSize={21} fontWeight="bold">
          Soil properties
        </text>

        <StatText x={470} r2="0.353" p="4.94e−200" />
        <StatText x={930} r2="0.0263" p="8.58e−14" />
      </svg>
    </div>
  );
}
